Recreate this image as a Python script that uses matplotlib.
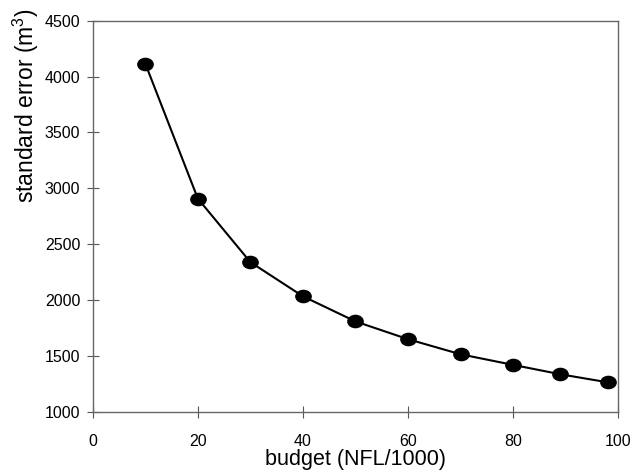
import matplotlib
matplotlib.use("Agg")
import matplotlib.pyplot as plt
from matplotlib.path import Path

# budget (NFL/1000) vs standard error (m3)
budget = [10, 20, 30, 40, 50, 60, 70, 80, 89, 98]
std_error = [4117, 2908, 2339, 2033, 1808, 1649, 1514, 1419, 1335, 1263]

x_ticks = [0, 20, 40, 60, 80, 100]
y_ticks = [1000, 1500, 2000, 2500, 3000, 3500, 4000, 4500]

plt.rcParams["font.family"] = ["Liberation Sans", "DejaVu Sans"]
plt.rcParams["mathtext.fontset"] = "custom"
plt.rcParams["mathtext.rm"] = "Liberation Sans"
plt.rcParams["mathtext.it"] = "Liberation Sans"

# slightly flattened dot, as in the scanned original
circ = Path.unit_circle()
dot = Path(circ.vertices * [1.0, 0.8], circ.codes)

fig = plt.figure(figsize=(6.42, 4.73), dpi=100)
ax = fig.add_axes([0.1444, 0.1296, 0.8186, 0.8266])

ax.plot(budget, std_error, color="black", linewidth=1.5,
        marker=dot, markersize=11, markerfacecolor="black",
        markeredgecolor="black", zorder=3)

ax.set_xlim(0, 100)
ax.set_ylim(1000, 4500)
ax.set_xticks(x_ticks)
ax.set_yticks(y_ticks)
ax.tick_params(direction="inout", length=8, width=0.8, labelsize=11.5,
               color="#555555")
ax.tick_params(axis="x", pad=12)
ax.tick_params(axis="y", pad=5)

for side in ax.spines.values():
    side.set_color("#666666")
    side.set_linewidth(1.0)

ax.set_xlabel("budget (NFL/1000)", fontsize=15.5, labelpad=0)
fig.text(0.04, 0.983, "standard error (m$\\mathregular{^3}$)", fontsize=16.5,
         rotation=90, ha="center", va="top")

fig.savefig("out.png", dpi=100)
